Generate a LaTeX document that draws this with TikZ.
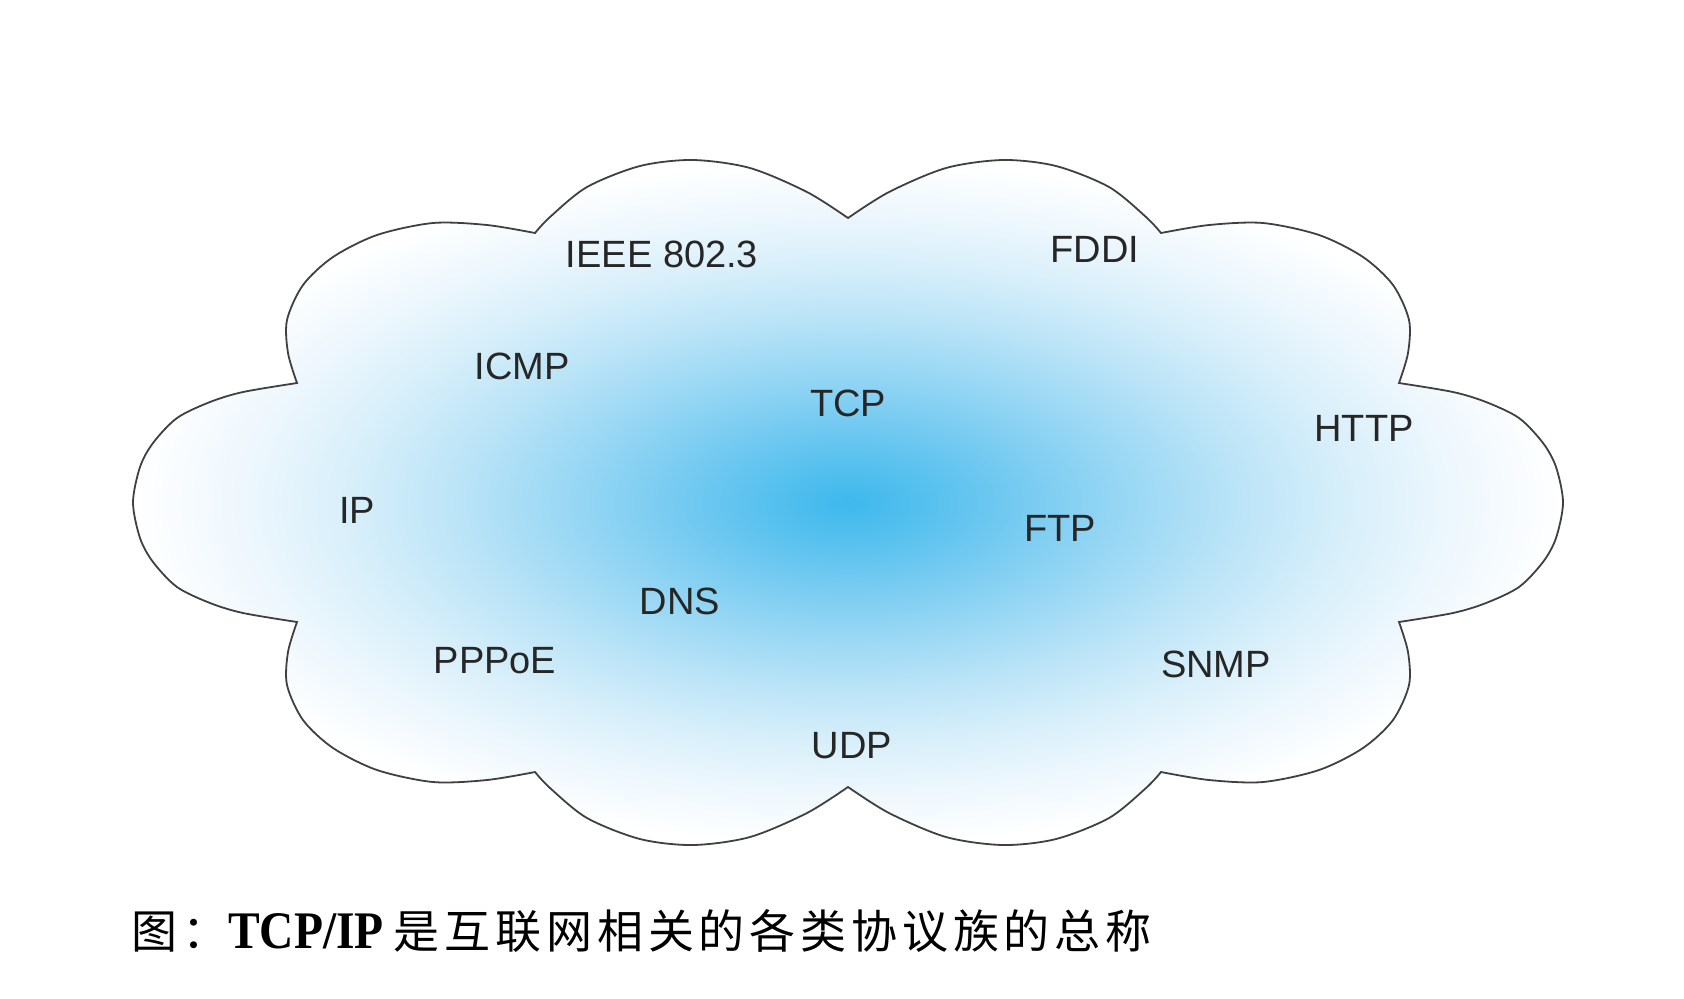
\documentclass[tikz,border=0pt]{standalone}
\usepackage{fontspec}
\setmainfont{Liberation Sans}
\newfontfamily\cjkfont[LetterSpace=10.5]{Noto Sans CJK SC}
\newfontfamily\capfont[FakeStretch=0.9]{Liberation Serif}
\usetikzlibrary{positioning}

\definecolor{glow0}{RGB}{62,184,236}
\definecolor{glow1}{RGB}{88,193,238}
\definecolor{glow2}{RGB}{120,203,241}
\definecolor{glow3}{RGB}{155,216,244}
\definecolor{glow4}{RGB}{188,228,247}
\definecolor{glow5}{RGB}{216,239,250}
\definecolor{glow6}{RGB}{238,247,253}
\pgfdeclareradialshading{cloudglow}{\pgfpoint{0bp}{0bp}}{color(0bp)=(glow0); color(3bp)=(glow1); color(6.25bp)=(glow2); color(10bp)=(glow3); color(13.75bp)=(glow4); color(17.5bp)=(glow5); color(21.25bp)=(glow6); color(25bp)=(white); color(50bp)=(white)}

\begin{document}
\begin{tikzpicture}[x=0.5pt, y=-0.5pt,
  cloud/.style={draw=black!75, line width=0.9pt, shading=cloudglow},
  proto/.style={font=\fontsize{19pt}{22pt}\selectfont, text=black!85, inner sep=0pt},
  caption/.style={anchor=base west, inner sep=0pt}
]
\useasboundingbox (0,0) rectangle (1684,998);
% cloud outline, one smooth piece per bump
\path[cloud]
  plot[smooth] coordinates {(297,383) (288,353) (287,320) (303,285) (333,257) (377,235) (433,223) (487,225) (535,233)}
  -- plot[smooth] coordinates {(535,233) (550,217) (587,187) (640,166) (693,160) (750,168) (807,192) (848,218)}
  -- plot[smooth] coordinates {(848,218) (889,192) (946,168) (1003,160) (1056,166) (1109,187) (1146,217) (1161,233)}
  -- plot[smooth] coordinates {(1161,233) (1209,225) (1263,223) (1319,235) (1363,257) (1393,285) (1409,320) (1408,353) (1399,383)}
  -- plot[smooth] coordinates {(1399,383) (1453,392) (1486,402) (1519,418) (1543,443) (1556,467) (1563,502.5) (1556,538) (1543,562) (1519,587) (1486,603) (1453,613) (1399,622)}
  -- plot[smooth] coordinates {(1399,622) (1408,652) (1409,685) (1393,720) (1363,748) (1319,770) (1263,782) (1209,780) (1161,772)}
  -- plot[smooth] coordinates {(1161,772) (1146,788) (1109,818) (1056,839) (1003,845) (946,837) (889,813) (848,787)}
  -- plot[smooth] coordinates {(848,787) (807,813) (750,837) (693,845) (640,839) (587,818) (550,788) (535,772)}
  -- plot[smooth] coordinates {(535,772) (487,780) (433,782) (377,770) (333,748) (303,720) (287,685) (288,652) (297,622)}
  -- plot[smooth] coordinates {(297,622) (243,613) (210,603) (177,587) (153,562) (140,538) (133,502.5) (140,467) (153,443) (177,418) (210,402) (243,392) (297,383)}
  -- cycle;

% protocol names
\node[proto] (ieee) at (662,254) {IEEE 802.3};
\node[proto] (fddi) at (1095,249) {FDDI};
\node[proto] (icmp) at (522,366) {ICMP};
\node[proto] (tcp) at (848,403) {TCP};
\node[proto] (http) at (1364,428) {HTTP};
\node[proto] (ip) at (357,510) {IP};
\node[proto] (ftp) at (1060,528) {FTP};
\node[proto] (dns) at (680,601) {DNS};
\node[proto] (pppoe) at (495,661) {PPPoE};
\node[proto] (snmp) at (1216,664) {SNMP};
\node[proto] (udp) at (852,746) {UDP};

% caption
\node[caption] (cap) at (131,948) {{\cjkfont\fontsize{23pt}{28pt}\selectfont 图：}{\capfont\bfseries\fontsize{26.4pt}{30pt}\selectfont TCP/IP}\hspace{5pt}{\cjkfont\fontsize{23pt}{28pt}\selectfont 是互联网相关的各类协议族的总称}};
\end{tikzpicture}
\end{document}
